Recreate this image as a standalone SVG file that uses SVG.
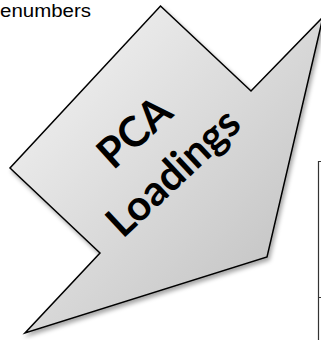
<svg xmlns="http://www.w3.org/2000/svg" width="321" height="340" viewBox="0 0 321 340">
<style>
.lbl{font-family:"Liberation Sans",Arial,sans-serif;font-size:18px;fill:#000}
.big{font-family:Lato,"Open Sans",sans-serif;font-weight:bold;font-size:42px;fill:#000}
.edge{stroke:#333;stroke-width:1.2;fill:none}
</style>
<defs>
<linearGradient id="g" x1="0" y1="0" x2="1" y2="1">
<stop offset="0" stop-color="#f7f7f7"/>
<stop offset="1" stop-color="#bcbcbc"/>
</linearGradient>
<filter id="sh" x="-10%" y="-10%" width="130%" height="130%">
<feDropShadow dx="2" dy="3" stdDeviation="2" flood-color="#000" flood-opacity="0.35"/>
</filter>
</defs>
<g id="label-top">
<text class="lbl" x="0" y="17" textLength="91" lengthAdjust="spacingAndGlyphs">enumbers</text>
</g>
<g id="frame">
<path class="edge" d="M318.5 340 V161.5 H321 M319 297.5 H321"/>
</g>
<g id="arrow">
<polygon points="160.5,6 251,91 323,17 267,257 25,333 100,253 10,168" fill="url(#g)" stroke="#000" stroke-width="1.5" stroke-linejoin="miter" filter="url(#sh)"/>
<text class="big" text-anchor="middle" transform="translate(144,143) rotate(-42)">PCA</text>
<text class="big" text-anchor="middle" transform="translate(183,183) rotate(-43)">Loadings</text>
</g>
</svg>
